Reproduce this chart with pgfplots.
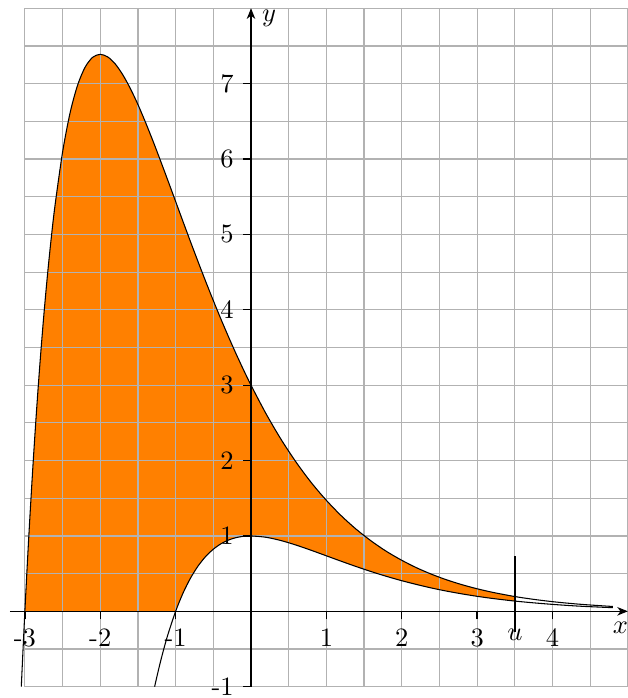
\documentclass[border=0pt]{standalone}
\usepackage{pgfplots}
\pgfplotsset{compat=1.18}
\usepgfplotslibrary{fillbetween}
\usetikzlibrary{arrows.meta}

% f(x) = (x+3) e^{-x}
\pgfplotstableread{
x y
-3.0475 -1.000
-3.00 0.000
-2.95 0.955
-2.90 1.817
-2.85 2.593
-2.80 3.289
-2.75 3.911
-2.70 4.464
-2.65 4.954
-2.60 5.385
-2.50 6.091
-2.40 6.614
-2.30 6.982
-2.20 7.220
-2.10 7.350
-2.00 7.389
-1.90 7.354
-1.80 7.260
-1.70 7.116
-1.60 6.934
-1.50 6.723
-1.40 6.488
-1.30 6.238
-1.20 5.976
-1.10 5.708
-1.00 5.437
-0.90 5.165
-0.80 4.896
-0.70 4.632
-0.60 4.373
-0.50 4.122
-0.40 3.879
-0.30 3.645
-0.20 3.420
-0.10 3.205
0.00 3.000
0.20 2.620
0.40 2.279
0.60 1.976
0.80 1.707
1.00 1.472
1.20 1.265
1.40 1.085
1.60 0.929
1.80 0.793
2.00 0.677
2.20 0.576
2.40 0.490
2.60 0.416
2.80 0.353
3.00 0.299
3.20 0.253
3.40 0.214
3.50 0.196
3.60 0.180
3.80 0.152
4.00 0.128
4.20 0.108
4.40 0.091
4.60 0.077
4.80 0.064
}\fdata

% g(x) = (x+1) e^{-x}
\pgfplotstableread{
x y
-1.2785 -1.000
-1.25 -0.873
-1.20 -0.664
-1.15 -0.474
-1.10 -0.300
-1.00 0.000
-0.90 0.246
-0.80 0.445
-0.70 0.604
-0.60 0.729
-0.50 0.824
-0.40 0.895
-0.30 0.945
-0.20 0.977
-0.10 0.995
0.00 1.000
0.20 0.982
0.40 0.938
0.60 0.878
0.80 0.809
1.00 0.736
1.20 0.663
1.40 0.592
1.60 0.525
1.80 0.463
2.00 0.406
2.20 0.355
2.40 0.308
2.60 0.267
2.80 0.231
3.00 0.199
3.20 0.171
3.40 0.147
3.50 0.136
3.60 0.126
3.80 0.108
4.00 0.092
4.20 0.078
4.40 0.066
4.60 0.057
4.80 0.048
}\gdata

\begin{document}
\begin{tikzpicture}
\begin{axis}[
  set layers,
  x=1cm, y=1cm,
  xmin=-3, xmax=5, ymin=-1, ymax=8,
  axis lines=middle,
  clip=false,
  axis line style={line width=0.5pt, -{Stealth[length=4pt,width=3.2pt,inset=1.2pt]}},
  xtick={-3,-2,-1,1,2,3,4},
  xticklabels={-3,-2,-1,1,2,3,4},
  ytick={-1,1,2,3,4,5,6,7},
  yticklabels={-1,1,2,3,4,5,6,7},
  minor xtick={-3,-2.5,...,5},
  minor ytick={-1,-0.5,...,8},
  grid=minor,
  minor grid style={black!30, line width=0.45pt},
  minor tick length=0pt,
  major tick length=3pt,
  tick align=outside,
  tick style={black, line width=0.5pt},
  extra x ticks={3.5},
  extra x tick labels={$u$},
  extra x tick style={grid=none, tick style={draw=none}},
]
  \addplot[name path=F, black, line width=0.4pt, smooth] table {\fdata};
  \addplot[name path=G, black, line width=0.4pt, smooth] table {\gdata};
  \path[name path=A] (axis cs:-3.2,0) -- (axis cs:5,0);
  \addplot[orange] fill between[of=F and A, soft clip={domain=-3:-1}, on layer=axis background];
  \addplot[orange] fill between[of=F and G, soft clip={domain=-1:3.5}, on layer=axis background];

  \draw[line width=0.5pt] (axis cs:-3.2,0) -- (axis cs:-3,0);
  \draw[line width=0.9pt] (axis cs:3.5,-0.28) -- (axis cs:3.5,0.74);

  \node at (axis cs:4.9,-0.22) {$x$};
  \node at (axis cs:0.24,7.87) {$y$};

  \coordinate (BL) at (axis cs:-3.33,-1.15);
  \coordinate (TR) at (axis cs:4.99,8.11);
\end{axis}
\pgfresetboundingbox
\useasboundingbox (BL) rectangle (TR);
\end{tikzpicture}
\end{document}
